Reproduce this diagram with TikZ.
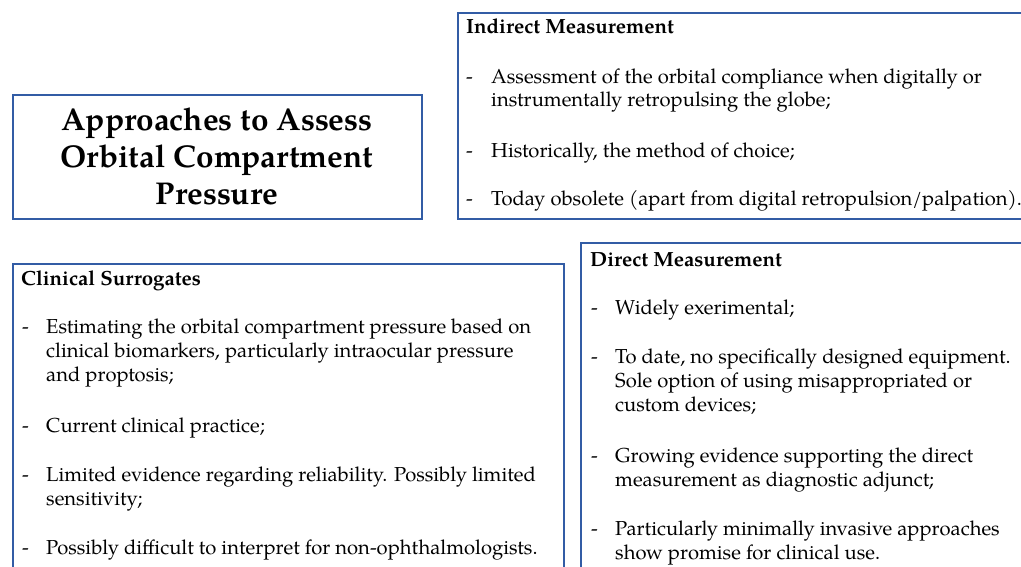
\documentclass[tikz,border=0pt]{standalone}
\usepackage{fontspec}
\setmainfont{TeX Gyre Pagella}
\definecolor{boxblue}{RGB}{50,92,165}
\begin{document}
\begin{tikzpicture}[x=1pt,y=-1pt,
  boxline/.style={draw=boxblue,line width=2pt,anchor=north west,inner sep=0pt},
  head/.style={anchor=base west,inner sep=0pt,font=\fontsize{20.5}{24}\selectfont\bfseries},
  dashmark/.style={anchor=base west,inner sep=0pt,font=\fontsize{20.2}{24}\selectfont},
  itemtext/.style={anchor=base west,inner sep=0pt,font=\fontsize{20.2}{24}\selectfont},
  titletext/.style={inner sep=0pt,anchor=base,font=\fontsize{31.5}{37}\selectfont\bfseries}]
\useasboundingbox (0,0) rectangle (1021,567);
\clip (0,0) rectangle (1021,567);
\fill[white] (0,0) rectangle (1021,567);
% boxes
\node[boxline,minimum width=409pt,minimum height=124pt] (titlebox) at (12,94) {};
\node[boxline,minimum width=580pt,minimum height=206pt] (indbox) at (457,12) {};
\node[boxline,minimum width=551pt,minimum height=320pt] (clinbox) at (12,263) {};
\node[boxline,minimum width=460pt,minimum height=340pt] (dirbox) at (580,242) {};
% title
\node[titletext] (title1) at (217,131) {Approaches to Assess};
\node[titletext] (title2) at (217,168) {Orbital Compartment};
\node[titletext] (title3) at (217,205) {Pressure};
% indirect
\node[head] (indh) at (466,34) {Indirect Measurement};
\node[dashmark] (ind1d) at (466,84) {-};
\node[itemtext] (ind1a) at (491,84) {Assessment of the orbital compliance when digitally or};
\node[itemtext] (ind1b) at (491,107) {instrumentally retropulsing the globe;};
\node[dashmark] (ind2d) at (466,158) {-};
\node[itemtext] (ind2) at (491,158) {Historically, the method of choice;};
\node[dashmark] (ind3d) at (466,206) {-};
\node[itemtext] (ind3) at (491,206) {Today obsolete (apart from digital retropulsion/palpation).};
% clinical
\node[head] (clinh) at (21,285) {Clinical Surrogates};
\node[dashmark] (cl1d) at (22,333) {-};
\node[itemtext] (cl1a) at (46,333) {Estimating the orbital compartment pressure based on};
\node[itemtext] (cl1b) at (46,357) {clinical biomarkers, particularly intraocular pressure};
\node[itemtext] (cl1c) at (46,381) {and proptosis;};
\node[dashmark] (cl2d) at (22,432) {-};
\node[itemtext] (cl2) at (46,432) {Current clinical practice;};
\node[dashmark] (cl3d) at (22,481) {-};
\node[itemtext] (cl3a) at (46,481) {Limited evidence regarding reliability. Possibly limited};
\node[itemtext] (cl3b) at (46,505) {sensitivity;};
\node[dashmark] (cl4d) at (22,554) {-};
\node[itemtext] (cl4) at (46,554) {Possibly difficult to interpret for non-ophthalmologists.};
% direct
\node[head] (dirh) at (590,266) {Direct Measurement};
\node[dashmark] (di1d) at (591,314) {-};
\node[itemtext] (di1) at (615,314) {Widely exerimental;};
\node[dashmark] (di2d) at (591,363) {-};
\node[itemtext] (di2a) at (615,363) {To date, no specifically designed equipment.};
\node[itemtext] (di2b) at (615,387) {Sole option of using misappropriated or};
\node[itemtext] (di2c) at (615,411) {custom devices;};
\node[dashmark] (di3d) at (591,462) {-};
\node[itemtext] (di3a) at (615,462) {Growing evidence supporting the direct};
\node[itemtext] (di3b) at (615,486) {measurement as diagnostic adjunct;};
\node[dashmark] (di4d) at (591,535) {-};
\node[itemtext] (di4a) at (615,535) {Particularly minimally invasive approaches};
\node[itemtext] (di4b) at (615,559) {show promise for clinical use.};
\end{tikzpicture}
\end{document}
